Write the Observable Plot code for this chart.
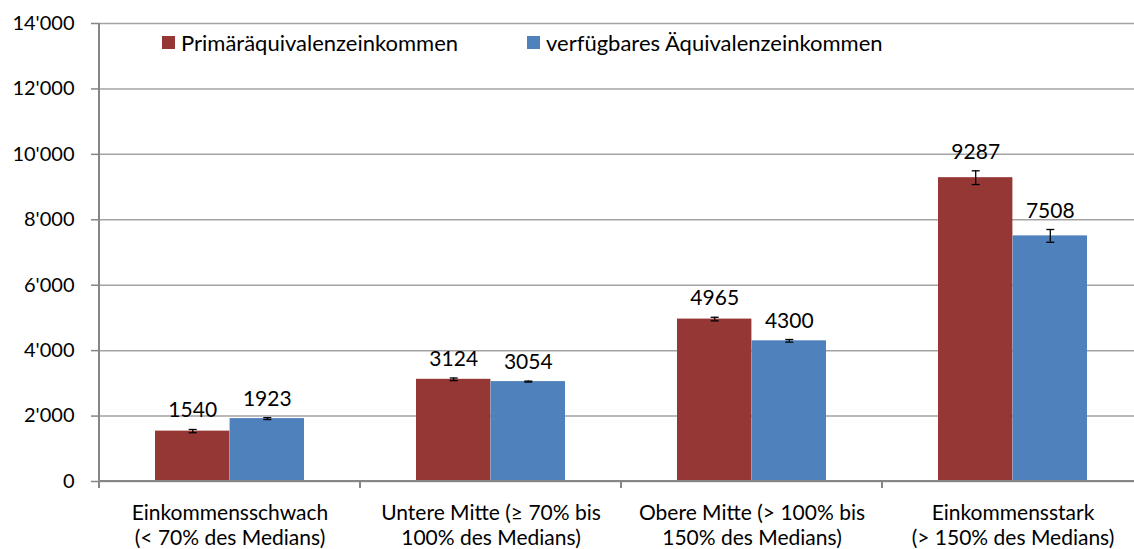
<!DOCTYPE html>
<html>
<head>
<meta charset="utf-8">
<script src="https://cdn.jsdelivr.net/npm/d3@7"></script>
<script src="https://cdn.jsdelivr.net/npm/@observablehq/plot@0.6"></script>
<style>
  html, body { margin: 0; padding: 0; background: #fff; overflow: hidden; }
  #wrap { position: relative; width: 1134px; height: 549px; font-family: Lato, sans-serif; }
  #legend { position: absolute; left: 162px; top: 29px; font-size: 22px; color: #000; white-space: nowrap; }
  .item { position: absolute; top: 0; display: flex; align-items: center; }
  .sw { width: 13px; height: 13px; margin-right: 6px; }
</style>
</head>
<body>
<div id="wrap">
  <div id="chart"></div>
  <div id="legend"></div>
</div>
<script>
const categories = [
  "Einkommensschwach\n(< 70% des Medians)",
  "Untere Mitte (≥ 70% bis\n100% des Medians)",
  "Obere Mitte (> 100% bis\n150% des Medians)",
  "Einkommensstark\n(> 150% des Medians)"
];
const seriesNames = ["Primäräquivalenzeinkommen", "verfügbares Äquivalenzeinkommen"];
const primaer = [1540, 3124, 4965, 9287];
const verfuegbar = [1923, 3054, 4300, 7508];
const primaerErr = [50, 40, 55, 210];
const verfuegbarErr = [30, 15, 40, 195];
const yTicks = [0, 2000, 4000, 6000, 8000, 10000, 12000, 14000];
const colors = ["#953735", "#4F81BD"];

const rows = (vals, errs, s) => categories.map((c, i) => ({cat: c, series: s, value: vals[i], err: errs[i]}));
const redRows = rows(primaer, primaerErr, seriesNames[0]);
const blueRows = rows(verfuegbar, verfuegbarErr, seriesNames[1]);

const fmt = d3.formatLocale({decimal: ".", thousands: "'", grouping: [3], currency: ["", ""]}).format(",");
const capSymbol = { draw(ctx, size) { const r = 4; ctx.moveTo(-r, 0); ctx.lineTo(r, 0); } };

const barW = 74.6, outer = 56, off = barW / 2;

function errorMarks(data, dx) {
  return [
    Plot.ruleX(data, {x: "cat", y1: d => d.value - d.err, y2: d => d.value + d.err, dx, stroke: "#000", strokeWidth: 1.3}),
    Plot.dot(data, {x: "cat", y: d => d.value - d.err, dx, symbol: capSymbol, stroke: "#000", strokeWidth: 1.3, r: 4}),
    Plot.dot(data, {x: "cat", y: d => d.value + d.err, dx, symbol: capSymbol, stroke: "#000", strokeWidth: 1.3, r: 4}),
    Plot.text(data, {x: "cat", y: d => d.value + d.err, text: d => String(d.value), dx, dy: -12, lineAnchor: "bottom", fontSize: 21, fill: "#000"})
  ];
}

function frameLines(index, scales, values, dims) {
  const {x, y} = scales;
  const g = d3.create("svg:g").attr("stroke", "#868686").attr("stroke-width", 2);
  const y0 = y(0);
  const bounds = categories.map(c => x(c)).concat([x(categories[categories.length - 1]) + x.bandwidth()]);
  g.append("line").attr("x1", bounds[0]).attr("x2", bounds[0]).attr("y1", y(14000)).attr("y2", y0 + 7);
  g.append("line").attr("x1", bounds[0]).attr("x2", bounds[bounds.length - 1]).attr("y1", y0).attr("y2", y0);
  for (const b of bounds.slice(1)) {
    g.append("line").attr("x1", b).attr("x2", b).attr("y1", y0).attr("y2", y0 + 7);
  }
  return g.node();
}

const chart = Plot.plot({
  width: 1134,
  height: 549,
  marginLeft: 98,
  marginRight: -9,
  marginTop: 23,
  marginBottom: 68,
  style: "overflow:hidden; font-family: Lato, sans-serif; font-size: 20px; color: #000; background: #fff;",
  x: {domain: categories, padding: 0, label: null, axis: null},
  y: {domain: [0, 14000], label: null, axis: null},
  marks: [
    Plot.gridY(yTicks, {stroke: "#a3a3a3", strokeOpacity: 1, strokeWidth: 1.5}),
    Plot.axisY(yTicks, {tickSize: 7, tickPadding: 17, tickFormat: fmt, stroke: "#868686", strokeWidth: 1.5, fontSize: 20, fill: "#000", label: null}),
    Plot.barY(redRows, {x: "cat", y: "value", fill: colors[0], insetLeft: outer, insetRight: outer + barW}),
    Plot.barY(blueRows, {x: "cat", y: "value", fill: colors[1], insetLeft: outer + barW, insetRight: outer}),
    frameLines,
    ...errorMarks(redRows, -off),
    ...errorMarks(blueRows, off),
    Plot.axisX({tickSize: 0, tickPadding: 21, fontSize: 21, lineHeight: 1.17, fill: "#000", label: null})
  ]
});
document.getElementById("chart").appendChild(chart);

const legend = document.getElementById("legend");
const legendX = [0, 365];
seriesNames.forEach((s, i) => {
  const it = document.createElement("div");
  it.className = "item";
  it.style.left = legendX[i] + "px";
  const sw = document.createElement("span");
  sw.className = "sw";
  sw.style.background = colors[i];
  const t = document.createElement("span");
  t.textContent = s;
  it.appendChild(sw); it.appendChild(t);
  legend.appendChild(it);
});
</script>
</body>
</html>
